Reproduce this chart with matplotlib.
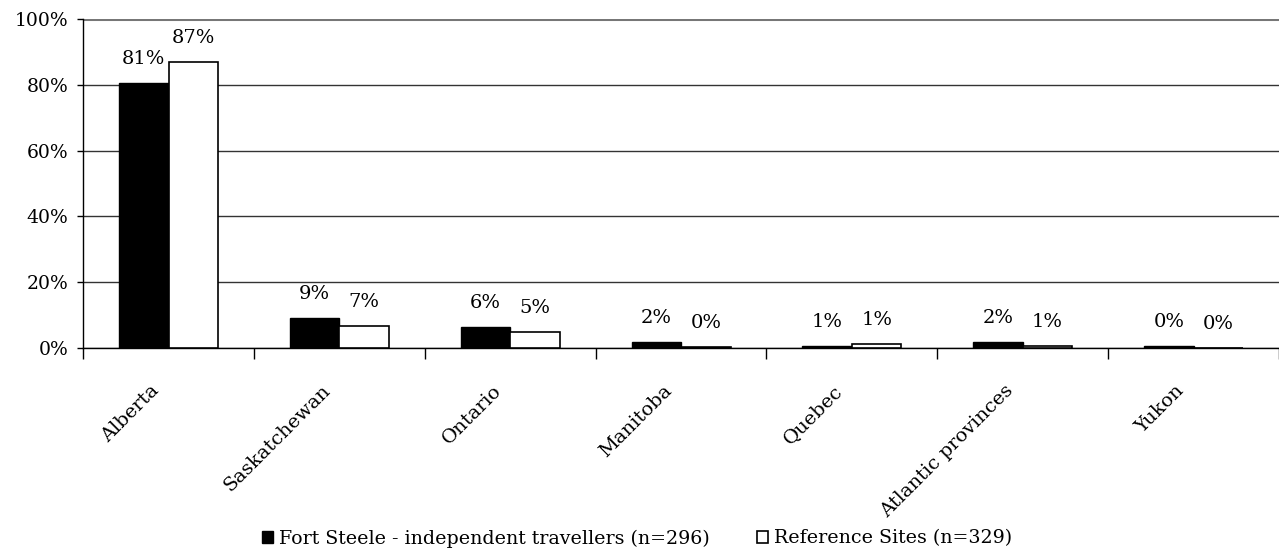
import numpy as np
import matplotlib
matplotlib.use('Agg')
import matplotlib.pyplot as plt
from matplotlib.ticker import FixedLocator, NullFormatter

# provinsi / wilayah asal
categories = ['Alberta', 'Saskatchewan', 'Ontario', 'Manitoba', 'Quebec',
              'Atlantic provinces', 'Yukon']
fort_steele = [80.6, 9.0, 6.3, 1.7, 0.5, 1.7, 0.5]
reference = [86.8, 6.8, 4.8, 0.4, 1.2, 0.5, 0.0]
fort_labels = ['81%', '9%', '6%', '2%', '1%', '2%', '0%']
ref_labels = ['87%', '7%', '5%', '0%', '1%', '1%', '0%']
series_names = ['Fort Steele - independent travellers (n=296)',
                'Reference Sites (n=329)']
yticks = [0, 20, 40, 60, 80, 100]


def main():
    plt.rcParams['font.family'] = ['DejaVu Serif']
    fig = plt.figure(figsize=(12.79, 5.58), dpi=100)
    ax = fig.add_axes([0.065, 0.3763, 0.935, 0.5897])

    x = np.arange(len(categories))
    w = 0.29
    b1 = ax.bar(x - w / 2, fort_steele, w, color='black', edgecolor='black',
                linewidth=1, label=series_names[0], zorder=3)
    b2 = ax.bar(x + w / 2, reference, w, color='white', edgecolor='black',
                linewidth=1.2, label=series_names[1], zorder=3)

    # label persentase di atas batang
    for bars, labs in ((b1, fort_labels), (b2, ref_labels)):
        for rect, lab in zip(bars, labs):
            ax.annotate(lab, (rect.get_x() + rect.get_width() / 2, rect.get_height()),
                        xytext=(0, 24), textcoords='offset pixels',
                        ha='center', va='center', fontsize=14)

    ax.set_xlim(-0.5, len(categories) - 0.5)
    ax.set_ylim(0, 100)
    ax.set_yticks(yticks)
    ax.set_yticklabels(['%d%%' % v for v in yticks], fontsize=13.5)
    ax.yaxis.grid(True, color='#333333', linewidth=1, zorder=0)
    ax.set_axisbelow(True)

    ax.xaxis.set_major_locator(FixedLocator(np.arange(-0.5, len(categories), 1.0)))
    ax.xaxis.set_major_formatter(NullFormatter())
    ax.tick_params(axis='x', which='major', length=8, direction='out', width=1)
    ax.tick_params(axis='y', length=4.5, direction='out', width=1, pad=6)

    # nama kategori miring 45 derajat
    for xi, name in zip(x, categories):
        ax.annotate(name, (xi, 0), xycoords=('data', 'axes fraction'),
                    xytext=(-12, -40), textcoords='offset pixels',
                    rotation=45, ha='right', va='center',
                    rotation_mode='anchor', fontsize=14)

    for s in ('top', 'right'):
        ax.spines[s].set_visible(False)
    ax.spines['left'].set_linewidth(1)
    ax.spines['bottom'].set_linewidth(1)
    ax.axhline(100, color='#777777', linewidth=2.2, zorder=1)

    fig.legend(handles=[b1, b2], loc='lower center', bbox_to_anchor=(0.498, -0.012),
               ncol=2, frameon=False, fontsize=13.7, handlelength=0.6,
               handleheight=0.6, handletextpad=0.3, columnspacing=2.5)

    fig.savefig('out.png', dpi=100)


if __name__ == '__main__':
    main()
